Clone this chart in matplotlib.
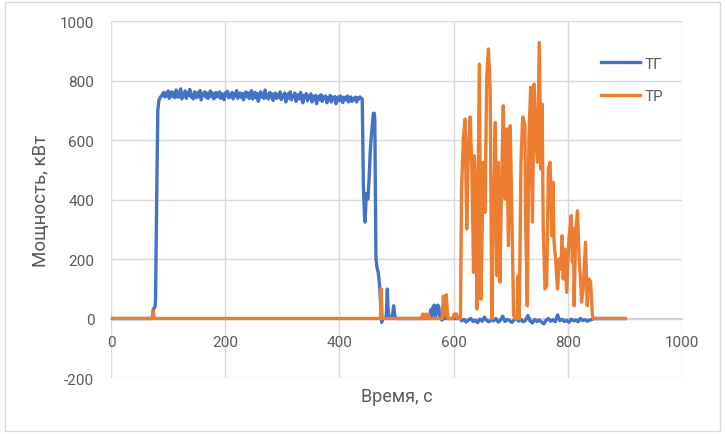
import numpy as np
import matplotlib
matplotlib.use("Agg")
import matplotlib.pyplot as plt
from matplotlib.patches import Rectangle

plt.rcParams['font.family'] = ['Roboto', 'DejaVu Sans']
plt.rcParams['axes.unicode_minus'] = False

# ТГ: разгон, работа ~750 кВт, сброс, шум около нуля
tg_start_t = [0, 72, 74, 77, 78, 80, 82, 84, 87]
tg_start_p = [0, 0, 30, 40, 60, 400, 700, 735, 745]

tg_plateau_t = np.arange(90, 439, 2)
tg_plateau_p = [752, 760, 745, 758, 748, 765, 740, 755, 762, 746,
                758, 742, 768, 750, 744, 760, 772, 738, 756, 748,
                765, 740, 758, 750, 770, 745, 752, 738, 762, 755,
                742, 760, 748, 766, 735, 756, 750, 762, 744, 758,
                740, 752, 765, 746, 758, 738, 750, 760, 745, 755,
                762, 740, 756, 748, 735, 758, 750, 764, 742, 752,
                745, 760, 738, 755, 748, 766, 740, 752, 758, 744,
                756, 735, 750, 762, 745, 758, 740, 752, 766, 738,
                750, 760, 742, 756, 730, 748, 762, 745, 755, 740,
                768, 742, 752, 738, 760, 746, 755, 733, 750, 758,
                740, 752, 745, 762, 736, 750, 744, 758, 728, 748,
                755, 740, 762, 735, 750, 745, 758, 730, 746, 752,
                738, 760, 742, 725, 750, 744, 756, 732, 748, 740,
                755, 728, 745, 738, 750, 722, 742, 748, 735, 752,
                730, 745, 740, 748, 725, 742, 736, 750, 728, 744,
                738, 746, 722, 740, 745, 732, 748, 738, 726, 744,
                740, 735, 748, 728, 742, 745, 730, 740, 736, 744,
                728, 742, 738, 745, 740]

tg_drop_t = [440, 442, 444, 445, 447, 448, 450, 452, 454, 456,
             458, 459.5, 461, 462, 464, 466, 468, 470, 471, 473,
             474, 476, 479, 482, 484, 485, 487, 490, 493, 495,
             497, 499, 558, 560, 562, 564, 566, 568, 570, 572,
             574, 576, 580, 582, 612]
tg_drop_p = [738, 446, 340, 324, 420, 413, 402, 470, 560, 615,
             660, 690, 690, 670, 200, 170, 155, 120, 89, 20,
             -13, 0, 0, 5, 99, 40, 0, 0, 10, 43,
             10, 0, 0, 30, 10, 40, 45, 5, 20, 45,
             40, 0, -5, 0, 0]

tg_tail_t = np.arange(614, 843, 4)
tg_tail_p = [-8, -3, -12, -5, 0, -10, -6, -14, -2, -9,
             5, -7, -11, -4, -8, 0, -12, -6, 8, -10,
             -3, -7, -13, -5, 0, -9, -4, -11, -6, 10,
             -8, -15, -3, -10, -5, -12, -18, -6, 0, -9,
             -4, -11, 12, -7, -3, -10, -6, -13, -2, -8,
             -5, -11, 0, -7, -4, -9, -6, -3]
tg_end_t = [845, 900]
tg_end_p = [0, 0]

# ТР
tr_t = [0, 72, 74, 76, 472, 473, 475, 544, 546, 548,
        551, 553, 556, 558, 580, 582, 585, 587, 590, 592,
        599, 601, 605, 607, 612, 614, 617, 620, 623, 626,
        629, 632, 635, 636, 639, 641, 645, 648, 652, 655,
        658, 661, 664, 667, 670, 673, 676, 678, 681, 684,
        687, 690, 693, 696, 699, 702, 705, 708, 711, 713,
        715, 718, 721, 725, 726, 729, 732, 735, 738, 741,
        744, 747, 750, 753, 755, 757, 760, 763, 766, 769,
        772, 774, 776, 779, 782, 785, 788, 790, 792, 795,
        798, 802, 806, 808, 810, 811, 814, 817, 820, 822,
        824, 827, 831, 834, 837, 840, 843, 845, 900]
tr_p = [0, 0, 25, 0, 0, 100, 0, 0, 15, 0,
        15, 0, 15, 0, 0, 75, 10, 80, 0, 0,
        0, 15, 15, 0, 0, 441, 603, 670, 301, 581,
        678, 502, 155, 547, 430, 32, 855, 65, 525, 357,
        811, 906, 771, 0, 346, 659, 144, 525, 122, 450,
        715, 402, 637, 245, 648, 368, 11, 0, 0, 144,
        0, 525, 678, 648, 346, 43, 615, 777, 324, 788,
        603, 525, 928, 502, 721, 301, 99, 110, 502, 525,
        278, 458, 256, 189, 99, 200, 166, 278, 133, 233,
        88, 267, 346, 189, 301, 43, 301, 362, 189, 144,
        55, 99, 256, 43, 133, 122, 11, 0, 0]

tg_t = np.concatenate([tg_start_t, tg_plateau_t, tg_drop_t, tg_tail_t, tg_end_t])
tg_p = np.concatenate([tg_start_p, tg_plateau_p, tg_drop_p, tg_tail_p, tg_end_p])

txt = '#595959'
grid = '#d9d9d9'

fig = plt.figure(figsize=(7.25, 4.35), dpi=100)
ax = fig.add_axes([0.1531, 0.1287, 0.7876, 0.8207])

ax.plot(tg_t, tg_p, color='#4472C4', lw=2.4, label='ТГ', solid_joinstyle='round')
ax.plot(tr_t, tr_p, color='#ED7D31', lw=2.4, label='ТР', solid_joinstyle='round')

ax.set_xlim(0, 1000)
ax.set_ylim(-200, 1000)
ax.set_xticks(range(0, 1001, 200))
ax.set_yticks(range(-200, 1001, 200))
ax.grid(True, color=grid, lw=1)
ax.set_axisbelow(True)

for s in ['top', 'right', 'left']:
    ax.spines[s].set_visible(False)
ax.spines['bottom'].set_position(('data', 0))
ax.spines['bottom'].set_color('#bfbfbf')
ax.spines['bottom'].set_linewidth(1.2)
ax.spines['bottom'].set_zorder(0.5)

ax.tick_params(axis='both', length=0, labelsize=11, labelcolor=txt)
ax.tick_params(axis='x', pad=12)
ax.tick_params(axis='y', pad=12)

ax.set_xlabel('Время, с', fontsize=13, color=txt, va='center')
ax.xaxis.set_label_coords(0.5, -0.05)
ax.set_ylabel('Мощность, кВт', fontsize=13.5, color=txt, va='center')
ax.yaxis.set_label_coords(-0.1226, 0.5)

leg = ax.legend(loc='upper left', bbox_to_anchor=(0.859, 0.90), frameon=False,
                fontsize=11, handlelength=2.55, handletextpad=0.3,
                labelspacing=1.2, borderpad=0, borderaxespad=0)
for t in leg.get_texts():
    t.set_color(txt)

fig.add_artist(Rectangle((5 / 725, 3 / 435), 715 / 725, 429 / 435,
                         transform=fig.transFigure, fill=False, ec=grid, lw=1))

fig.savefig('out.png', dpi=100)
